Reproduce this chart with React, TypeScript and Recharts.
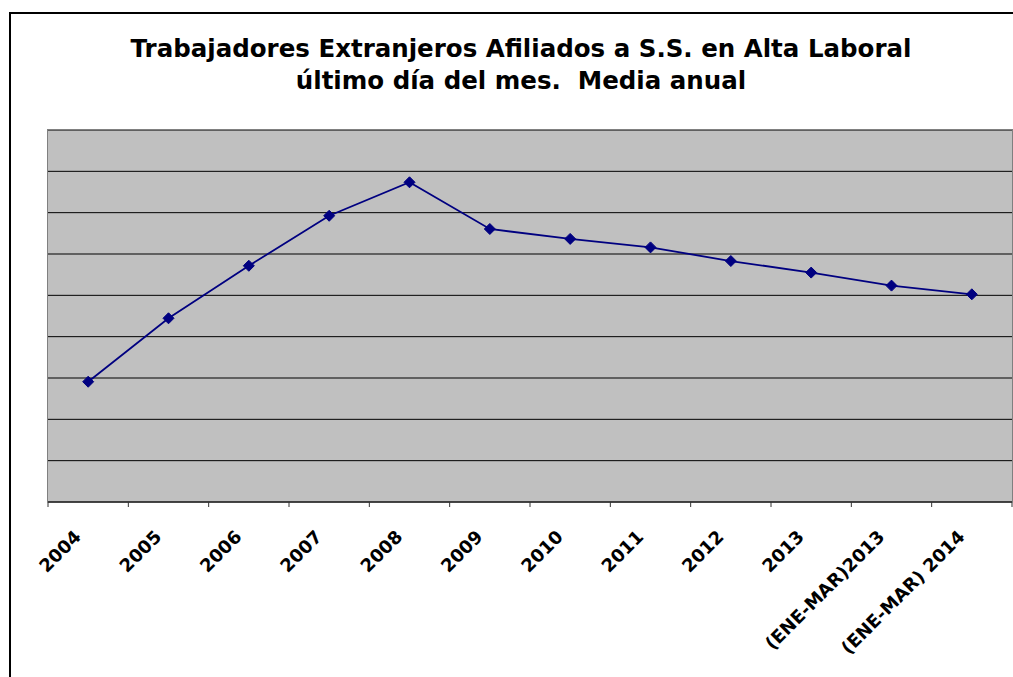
import React from 'react';
import { LineChart, Line, XAxis, YAxis, CartesianGrid } from 'recharts';

// categories on the x axis
const categories = [
  '2004',
  '2005',
  '2006',
  '2007',
  '2008',
  '2009',
  '2010',
  '2011',
  '2012',
  '2013',
  '(ENE-MAR)2013',
  '(ENE-MAR) 2014',
];

// average foreign workers affiliated
const afiliados = [
  1082000, 1389000, 1643000, 1885000, 2047000, 1821000, 1773000, 1732000, 1666000, 1610000,
  1547000, 1505000,
];

const yDomain = [500000, 2300000];
const gridTicks = [700000, 900000, 1100000, 1300000, 1500000, 1700000, 1900000, 2100000];

const titleLines = [
  'Trabajadores Extranjeros Afiliados a S.S. en Alta Laboral',
  'último día del mes.  Media anual',
];

const data = categories.map((label, i) => ({ label, value: afiliados[i] }));

const W = 1013;
const H = 677;
const margin = { top: 130, right: 1, left: 48, bottom: 15 };
const axisHeight = 160;
const plotW = W - margin.left - margin.right;
const plotH = H - margin.top - margin.bottom - axisHeight;
const band = plotW / categories.length;

const FONT = '"DejaVu Sans", Verdana, sans-serif';

const Diamond = (props: any) => {
  const { cx, cy } = props;
  if (cx == null || cy == null) return null;
  const r = 5.5;
  return (
    <polygon
      points={`${cx},${cy - r} ${cx + r},${cy} ${cx},${cy + r} ${cx - r},${cy}`}
      fill="#000080"
      stroke="#000080"
      strokeWidth={1}
    />
  );
};

const AxisTick = (props: any) => {
  const { x, y, payload, index } = props;
  const half = payload && payload.offset ? payload.offset : band / 2;
  const last = index === categories.length - 1;
  return (
    <g>
      <line x1={x - half} y1={y} x2={x - half} y2={y + 5} stroke="#333" strokeWidth={1} />
      {last && <line x1={x + half} y1={y} x2={x + half} y2={y + 5} stroke="#333" strokeWidth={1} />}
      <text
        x={0}
        y={0}
        transform={`translate(${x - 6},${y + 36}) rotate(-45)`}
        textAnchor="end"
        fontFamily={FONT}
        fontWeight="bold"
        fontSize={18}
        fill="#000"
      >
        {payload.value}
      </text>
    </g>
  );
};

const App: React.FC = () => {
  return (
    <div
      style={{
        position: 'absolute',
        left: 0,
        top: 0,
        width: W,
        height: H,
        background: '#fff',
        overflow: 'hidden',
      }}
    >
      <div
        style={{
          position: 'absolute',
          left: 9,
          top: 12,
          width: 1010,
          height: 700,
          border: '2px solid #000',
        }}
      />
      {titleLines.map((t, i) => (
        <div
          key={i}
          style={{
            position: 'absolute',
            left: 0,
            width: 1042,
            top: 33 + i * 32,
            lineHeight: '32px',
            textAlign: 'center',
            fontFamily: FONT,
            fontWeight: 'bold',
            fontSize: 24.5,
            color: '#000',
            whiteSpace: 'pre',
          }}
        >
          {t}
        </div>
      ))}
      <div style={{ position: 'absolute', left: 0, top: 0 }}>
        <LineChart width={W} height={H} data={data} margin={margin}>
          <CartesianGrid
            vertical={false}
            fill="#C0C0C0"
            fillOpacity={1}
            stroke="#000"
            strokeWidth={1}
          />
          <XAxis
            dataKey="label"
            scale="band"
            interval={0}
            height={axisHeight}
            tickSize={0}
            tickMargin={0}
            tickLine={false}
            axisLine={{ stroke: '#333', strokeWidth: 1.5 }}
            tick={<AxisTick />}
          />
          <YAxis hide domain={yDomain} ticks={gridTicks} allowDataOverflow />
          <Line
            type="linear"
            dataKey="value"
            stroke="#000080"
            strokeWidth={1.8}
            dot={<Diamond />}
            activeDot={false}
            isAnimationActive={false}
          />
        </LineChart>
      </div>
      <div
        style={{
          position: 'absolute',
          left: margin.left - 1,
          top: margin.top - 1,
          width: plotW,
          height: plotH + 1,
          borderTop: '1.5px solid #808080',
          borderLeft: '1.5px solid #808080',
          borderRight: '1.5px solid #808080',
          pointerEvents: 'none',
        }}
      />
    </div>
  );
};

export default App;
